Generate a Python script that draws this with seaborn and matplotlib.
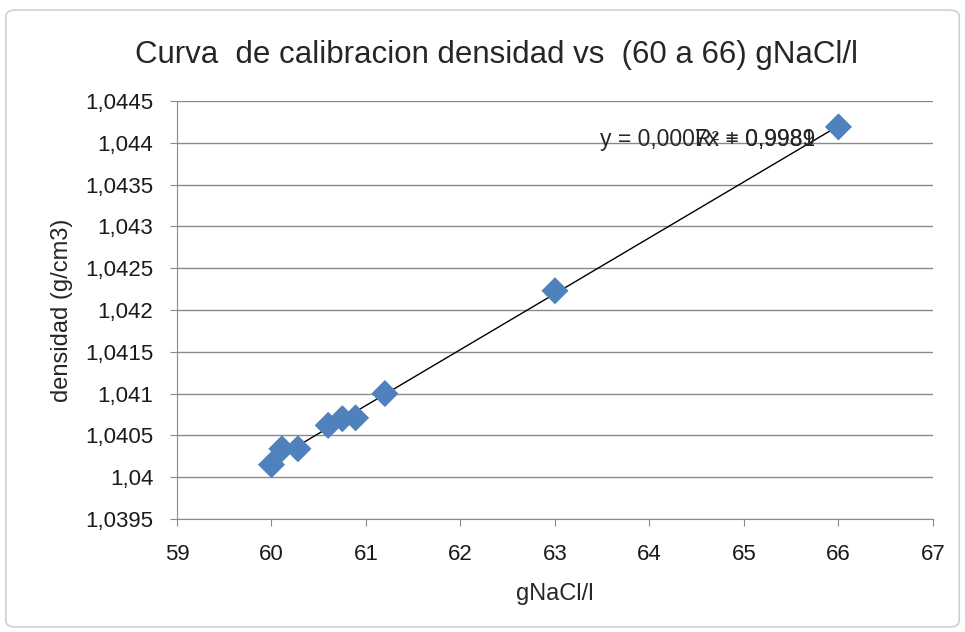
import matplotlib.pyplot as plt
import seaborn as sns
import pandas as pd
import numpy as np
from matplotlib.ticker import FuncFormatter, MultipleLocator
from matplotlib.patches import FancyBboxPatch

# values
conc = [60.0, 60.11, 60.28, 60.6, 60.75, 60.89, 61.2, 63.0, 66.0]
dens = [1.04015, 1.04034, 1.04034, 1.04062, 1.0407, 1.04071, 1.04100, 1.04223, 1.04419]
eq_text = "y = 0,0007x + 0,9981"
r2_text = "R² = 0,9989"

df = pd.DataFrame({"gNaCl/l": conc, "densidad": dens})

sns.set_style("white")
plt.rcParams['font.family'] = ['Liberation Sans', 'DejaVu Sans']

fig = plt.figure(figsize=(9.65, 6.32), dpi=100)
ax = fig.add_axes([0.1834, 0.1788, 0.7834, 0.6614])

# outer chart border
fig.patches.append(FancyBboxPatch((0.006, 0.008), 0.988, 0.976,
                                  boxstyle="round,pad=0,rounding_size=0.01",
                                  transform=fig.transFigure, fill=False,
                                  edgecolor="#d0d0d0", linewidth=1.2))

sns.regplot(data=df, x="gNaCl/l", y="densidad", scatter=False, ci=None,
            color="black", line_kws={'linewidth': 1}, ax=ax)
sns.scatterplot(data=df, x="gNaCl/l", y="densidad", marker="D", s=190,
                color="#4F81BD", edgecolor="none", ax=ax, zorder=3)

ax.set_xlim(59, 67)
ax.set_ylim(1.0395, 1.0445)
ax.xaxis.set_major_locator(MultipleLocator(1))
ax.yaxis.set_major_locator(MultipleLocator(0.0005))
fmt = FuncFormatter(lambda v, p: ('%g' % round(v, 5)).replace('.', ','))
ax.xaxis.set_major_formatter(fmt)
ax.yaxis.set_major_formatter(fmt)

ax.grid(axis='y', color='#8a8a8a', linewidth=1)
ax.set_axisbelow(True)
for s in ['top', 'right']:
    ax.spines[s].set_visible(False)
for s in ['left', 'bottom']:
    ax.spines[s].set_color('#8a8a8a')
ax.tick_params(axis='both', direction='out', length=5, color='#8a8a8a',
               labelsize=16, labelcolor='#1a1a1a', bottom=True, left=True)
ax.tick_params(axis='x', pad=13)
ax.tick_params(axis='y', pad=12)

ax.set_xlabel("gNaCl/l", fontsize=17, labelpad=13)
ax.set_ylabel("densidad (g/cm3)", fontsize=17, labelpad=9)
fig.text(0.515, 0.913, "Curva  de calibracion densidad vs  (60 a 66) gNaCl/l",
         ha='center', va='center', fontsize=22.5)

# overlapping equation labels as in the reference
ax.text(0.844, 0.907, eq_text, transform=ax.transAxes, ha='right', va='center', fontsize=16.5)
ax.text(0.844, 0.907, r2_text, transform=ax.transAxes, ha='right', va='center', fontsize=16.5)

fig.savefig("out.png", dpi=100)
